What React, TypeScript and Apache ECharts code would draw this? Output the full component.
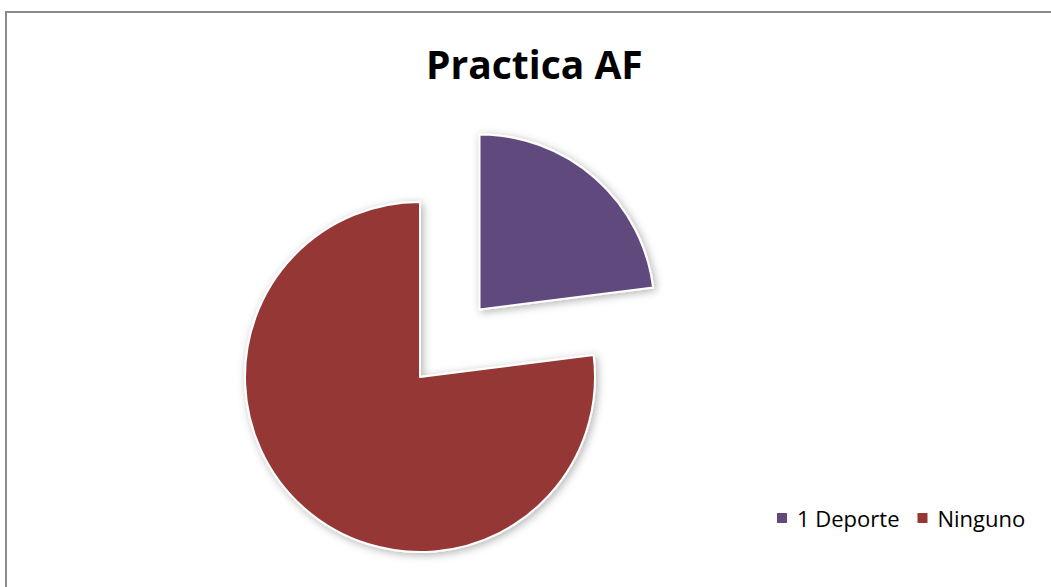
import React, { useEffect, useRef } from "react";
import * as echarts from "echarts";

const categories = ["1 Deporte", "Ninguno"];
const values = [23, 77];
const colors = ["#604A7B", "#953735"];
const titleText = "Practica AF";

export default function App() {
  const ref = useRef<HTMLDivElement>(null);
  useEffect(() => {
    const chart = echarts.init(ref.current!, null, { renderer: "svg" });
    chart.setOption({
      animation: false,
      backgroundColor: "#ffffff",
      title: {
        text: titleText,
        left: 421,
        top: 39,
        textStyle: {
          fontFamily: "Open Sans",
          fontWeight: "bold",
          fontSize: 39,
          color: "#000000",
        },
      },
      legend: {
        data: categories,
        left: 770,
        top: 502,
        icon: "rect",
        itemWidth: 12,
        itemHeight: 12,
        itemGap: 16,
        selectedMode: false,
        textStyle: { fontFamily: "Open Sans", fontSize: 22, color: "#000000", padding: [0, 0, 0, 4] },
      },
      graphic: [
        {
          type: "rect",
          shape: { x: 6, y: 12, width: 1100, height: 700 },
          style: { fill: "none", stroke: "#8a8a8a", lineWidth: 2 },
          silent: true,
          z: -1,
        },
      ],
      series: [
        {
          type: "pie",
          center: [420, 377],
          radius: 175,
          startAngle: 90,
          clockwise: true,
          selectedMode: "single",
          selectedOffset: 90,
          label: { show: false },
          labelLine: { show: false },
          emphasis: { disabled: true },
          itemStyle: {
            borderColor: "#ffffff",
            borderWidth: 2,
            shadowBlur: 8,
            shadowColor: "rgba(0,0,0,0.3)",
            shadowOffsetX: 2,
            shadowOffsetY: 2,
          },
          data: categories.map((name, i) => ({
            name,
            value: values[i],
            selected: i === 0,
            itemStyle: { color: colors[i] },
          })),
        },
      ],
    });
    return () => chart.dispose();
  }, []);
  return (
    <div
      ref={ref}
      style={{ position: "fixed", left: 0, top: 0, width: 1051, height: 587 }}
    />
  );
}
